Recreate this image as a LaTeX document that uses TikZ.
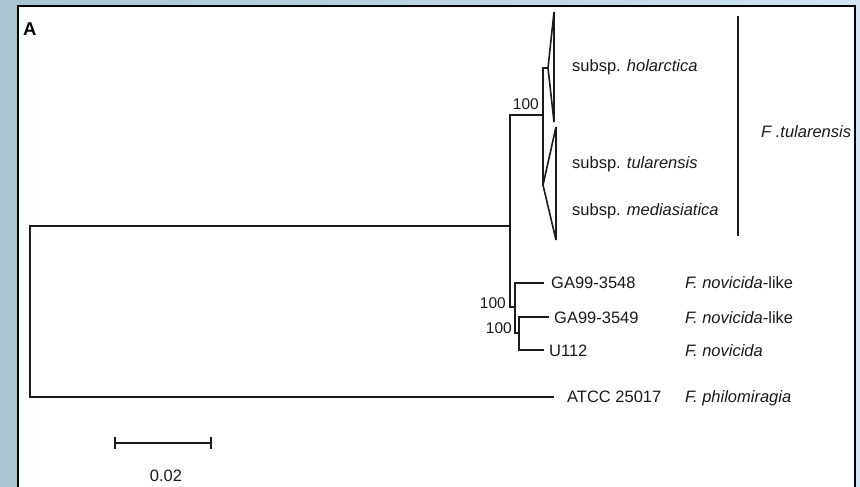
\documentclass[tikz,border=0pt]{standalone}
\usepackage{fontspec}
\setmainfont{Liberation Sans}
\definecolor{bgleft}{HTML}{A8C4D0}
\definecolor{bgright}{HTML}{CFE5F2}
\definecolor{ink}{HTML}{1A1A1A}
\begin{document}
\begin{tikzpicture}[x=1pt,y=-1pt,
  br/.style={line width=1.7pt, draw=ink, line cap=rect},
  tri/.style={line width=1.6pt, draw=ink, line join=miter, miter limit=2},
  lbl/.style={inner sep=0pt, anchor=base west, text=ink, font=\fontsize{16.5}{19}\selectfont},
  boot/.style={inner sep=0pt, anchor=base east, text=ink, font=\fontsize{15.5}{18}\selectfont}]
\useasboundingbox (0,0) rectangle (860,487);
\clip (0,0) rectangle (860,487);
\shade[left color=bgleft, right color=bgright] (0,0) rectangle (860,487);
\filldraw[fill=white, draw=black, line width=2.6pt] (18,6) rectangle (855,500);

% panel letter
\node[inner sep=0pt, anchor=base west, font=\fontsize{18.5}{21}\selectfont\bfseries] (lA) at (23,36) {A};

% tree coordinates
\coordinate (root) at (30,226);
\coordinate (rootT) at (30,226);
\coordinate (rootB) at (30,397);
\coordinate (n1a) at (510,226);
\coordinate (n1T) at (510,115);
\coordinate (n1B) at (510,307);
\coordinate (n2) at (543,115);
\coordinate (n2T) at (543,68);
\coordinate (n2B) at (543,185);
\coordinate (holA) at (548,68);
\coordinate (n3) at (515,307);
\coordinate (n3T) at (515,283);
\coordinate (n3B) at (515,333);
\coordinate (n4) at (519,333);
\coordinate (n4T) at (519,317);
\coordinate (n4B) at (519,350);
\coordinate (t3548) at (543,283);
\coordinate (t3549) at (548,317);
\coordinate (tU112) at (543,350);
\coordinate (tphil) at (553,397);

% branches
\draw[br] (rootT) -- (rootB);
\draw[br] (root) -- (n1a);
\draw[br] (n1T) -- (n1B);
\draw[br] (n1T) -- (n2);
\draw[br] (n2T) -- (n2B);
\draw[br] (n2T) -- (holA);
\draw[br] (n1B) -- (n3);
\draw[br] (n3T) -- (n3B);
\draw[br] (n3T) -- (t3548);
\draw[br] (n3B) -- (n4);
\draw[br] (n4T) -- (n4B);
\draw[br] (n4T) -- (t3549);
\draw[br] (n4B) -- (tU112);
\draw[br] (rootB) -- (tphil);

% collapsed clades
\draw[tri] (holA) -- (554,12) -- (554,122) -- cycle;
\draw[tri] (n2B) -- (556,127) -- (556,240) -- cycle;

% bootstrap values
\node[boot] (b1) at (539,110) {100};
\node[boot] (b2) at (506,308) {100};
\node[boot] (b3) at (512,333) {100};

% clade labels
\node[lbl] (lhol) at (572,72) {subsp. \textit{holarctica}};
\node[lbl] (ltul) at (572,168) {subsp. \textit{tularensis}};
\node[lbl] (lmed) at (572,215) {subsp. \textit{mediasiatica}};
\draw[line width=1.6pt, draw=ink] (738,16) coordinate (barT) -- (738,236) coordinate (barB);
\node[lbl] (lFt) at (761,137) {\textit{F .tularensis}};

% taxa
\node[lbl] (l3548) at (551,288) {GA99-3548};
\node[lbl] (l3549) at (554,323) {GA99-3549};
\node[lbl] (lU112) at (549,356) {U112};
\node[lbl] (lATCC) at (567,402) {ATCC 25017};
\node[lbl] (s3548) at (685,288) {\textit{F. novicida}-like};
\node[lbl] (s3549) at (685,323) {\textit{F. novicida}-like};
\node[lbl] (sU112) at (685,356) {\textit{F. novicida}};
\node[lbl] (sATCC) at (685,402) {\textit{F. philomiragia}};

% scale bar
\coordinate (sbL) at (115,443);
\coordinate (sbR) at (211,443);
\draw[line width=1.6pt, draw=ink] (sbL) -- (sbR);
\draw[line width=1.6pt, draw=ink] ([yshift=-6pt]sbL) -- ([yshift=6pt]sbL);
\draw[line width=1.6pt, draw=ink] ([yshift=-6pt]sbR) -- ([yshift=6pt]sbR);
\node[inner sep=0pt, anchor=base, text=ink, font=\fontsize{16.5}{19}\selectfont] (lsc) at (166,481) {0.02};
\end{tikzpicture}
\end{document}
